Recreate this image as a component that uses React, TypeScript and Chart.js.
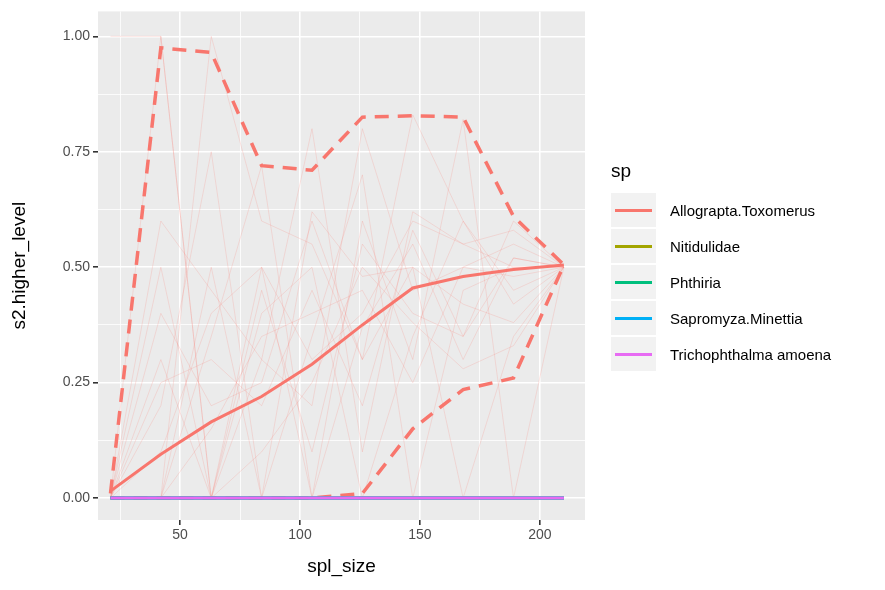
import { useEffect, useRef } from 'react';
import Chart from 'chart.js/auto';

// sample sizes
const splSize = [21, 42, 63, 84, 105, 126, 147, 168, 189, 210];

// Allograpta.Toxomerus summary
const meanLevel = [0.015, 0.095, 0.165, 0.22, 0.29, 0.375, 0.455, 0.48, 0.495, 0.505];
const upperLevel = [0.01, 0.975, 0.965, 0.72, 0.71, 0.825, 0.828, 0.825, 0.61, 0.505];
const lowerLevel = [0, 0, 0, 0, 0, 0.01, 0.15, 0.235, 0.26, 0.505];

// other species (all zero)
const zeroLevel = [0, 0, 0, 0, 0, 0, 0, 0, 0, 0];

// individual replicate traces (faint)
const traces = [
    [0, 1, 0, 0.5, 0.3, 0.4, 0.6, 0.55, 0.5, 0.5],
    [0, 0.5, 0, 0.3, 0.2, 0.8, 0.45, 0.5, 0.55, 0.5],
    [0, 0, 1, 0.6, 0.55, 0.3, 0.83, 0.6, 0.45, 0.5],
    [1, 1, 0, 0.45, 0.1, 0.55, 0.4, 0.35, 0.6, 0.5],
    [0, 0.2, 0.75, 0, 0.62, 0.48, 0.5, 0.42, 0.38, 0.5],
    [0, 0, 0.35, 0.72, 0, 0.37, 0.55, 0.3, 0.52, 0.5],
    [0, 0.3, 0, 0.4, 0.5, 0, 0.35, 0.6, 0.42, 0.5],
    [0, 0, 0.5, 0, 0.35, 0.7, 0, 0.45, 0.5, 0.5],
    [0, 0.4, 0.2, 0.25, 0.6, 0.3, 0.5, 0, 0.35, 0.5],
    [0, 0.1, 0.4, 0.5, 0, 0.6, 0.3, 0.82, 0, 0.5],
    [0, 0.25, 0.3, 0.2, 0.45, 0.2, 0.58, 0.35, 0.52, 0.5],
    [0, 0, 0.15, 0.35, 0.4, 0.45, 0.25, 0.5, 0.48, 0.5],
    [0, 0.6, 0.45, 0.3, 0.8, 0.1, 0.62, 0.55, 0.58, 0.5],
    [0, 0, 0, 0.1, 0.25, 0.5, 0.38, 0.28, 0.33, 0.5],
];

const species = ['Allograpta.Toxomerus', 'Nitidulidae', 'Phthiria', 'Sapromyza.Minettia', 'Trichophthalma amoena'];
const speciesColors = ['#F8766D', '#A3A500', '#00BF7D', '#00B0F6', '#E76BF3'];

const pts = (vals: number[]) => vals.map((v, i) => ({ x: splSize[i], y: v }));

const panelBg = {
    id: 'panelBg',
    beforeDraw(chart: any) {
        const { ctx, chartArea: a } = chart;
        ctx.save();
        ctx.fillStyle = '#EBEBEB';
        ctx.fillRect(a.left, a.top, a.right - a.left, a.bottom - a.top);
        ctx.restore();
    },
};

export default function App() {
    const canvasRef = useRef<HTMLCanvasElement>(null);

    useEffect(() => {
        if (!canvasRef.current) return;
        // higher order = drawn earlier (underneath)
        const datasets: any[] = [];
        traces.forEach((t) => {
            datasets.push({ data: pts(t), borderColor: 'rgba(248,118,109,0.28)', borderWidth: 0.7, pointRadius: 0, order: 10 });
        });
        datasets.push({ data: pts(meanLevel), borderColor: '#F8766D', borderWidth: 3, pointRadius: 0, order: 6 });
        datasets.push({ data: pts(upperLevel), borderColor: '#F8766D', borderWidth: 3.5, borderDash: [14, 9], pointRadius: 0, order: 6 });
        datasets.push({ data: pts(lowerLevel), borderColor: '#F8766D', borderWidth: 3.5, borderDash: [14, 9], pointRadius: 0, order: 6 });
        for (let s = 1; s < species.length; s++) {
            datasets.push({ data: pts(zeroLevel), borderColor: speciesColors[s], borderWidth: 3, pointRadius: 0, order: 5 - s });
        }

        const tickFont = { family: 'Arial, Liberation Sans', size: 14 };
        const chart = new Chart(canvasRef.current, {
            type: 'line',
            data: { datasets },
            plugins: [panelBg],
            options: {
                animation: false,
                responsive: false,
                layout: { padding: { top: 10, right: 300, left: 4, bottom: 8 } },
                plugins: { legend: { display: false }, tooltip: { enabled: false } },
                scales: {
                    x: {
                        type: 'linear', min: 15.8, max: 218.8,
                        afterBuildTicks: (ax: any) => { ax.ticks = [25, 50, 75, 100, 125, 150, 175, 200].map((v) => ({ value: v })); },
                        afterFit: (ax: any) => { ax.height = 62; },
                        border: { display: false },
                        grid: {
                            color: '#FFFFFF',
                            lineWidth: (c: any) => (c.tick && c.tick.value % 50 === 0 ? 1.6 : 0.8),
                            tickColor: (c: any) => (c.tick && c.tick.value % 50 === 0 ? '#333333' : 'rgba(0,0,0,0)'),
                            tickLength: 5,
                        },
                        ticks: {
                            color: '#4D4D4D', font: tickFont, padding: 2,
                            callback: (v: any) => (v % 50 === 0 ? String(v) : ''),
                        },
                        title: { display: true, text: 'spl_size', color: '#000', font: { family: 'Arial, Liberation Sans', size: 19 }, padding: { top: 0 } },
                    },
                    y: {
                        min: -0.0475, max: 1.054,
                        afterBuildTicks: (ax: any) => { ax.ticks = [0, 0.125, 0.25, 0.375, 0.5, 0.625, 0.75, 0.875, 1].map((v) => ({ value: v })); },
                        afterFit: (ax: any) => { ax.width = 94; },
                        border: { display: false },
                        grid: {
                            color: '#FFFFFF',
                            lineWidth: (c: any) => (c.tick && (c.tick.value * 4) % 1 === 0 ? 1.6 : 0.8),
                            tickColor: (c: any) => (c.tick && (c.tick.value * 4) % 1 === 0 ? '#333333' : 'rgba(0,0,0,0)'),
                            tickLength: 5,
                        },
                        ticks: {
                            color: '#4D4D4D', font: tickFont, padding: 3,
                            callback: (v: any) => ((v * 4) % 1 === 0 ? Number(v).toFixed(2) : ''),
                        },
                        title: { display: true, text: 's2.higher_level', color: '#000', font: { family: 'Arial, Liberation Sans', size: 19 }, padding: { bottom: 2 } },
                    },
                },
            },
        });
        return () => chart.destroy();
    }, []);

    return (
        <div style={{ position: 'fixed', left: 0, top: 0, width: 885, height: 590, background: '#fff', fontFamily: 'Arial, Liberation Sans' }}>
            <canvas ref={canvasRef} width={885} height={590}></canvas>
            <div style={{ position: 'absolute', left: 611, top: 160 }}>
                <div style={{ fontSize: 19, color: '#000', marginBottom: 10 }}>sp</div>
                {species.map((s, i) => (
                    <div key={s} style={{ display: 'flex', alignItems: 'center', height: 36 }}>
                        <div style={{ width: 45, height: 34, background: '#F2F2F2', position: 'relative' }}>
                            <div style={{ position: 'absolute', left: 4, right: 4, top: 15.5, height: 3, background: speciesColors[i] }}></div>
                        </div>
                        <span style={{ fontSize: 15, marginLeft: 14, color: '#000' }}>{s}</span>
                    </div>
                ))}
            </div>
        </div>
    );
}
